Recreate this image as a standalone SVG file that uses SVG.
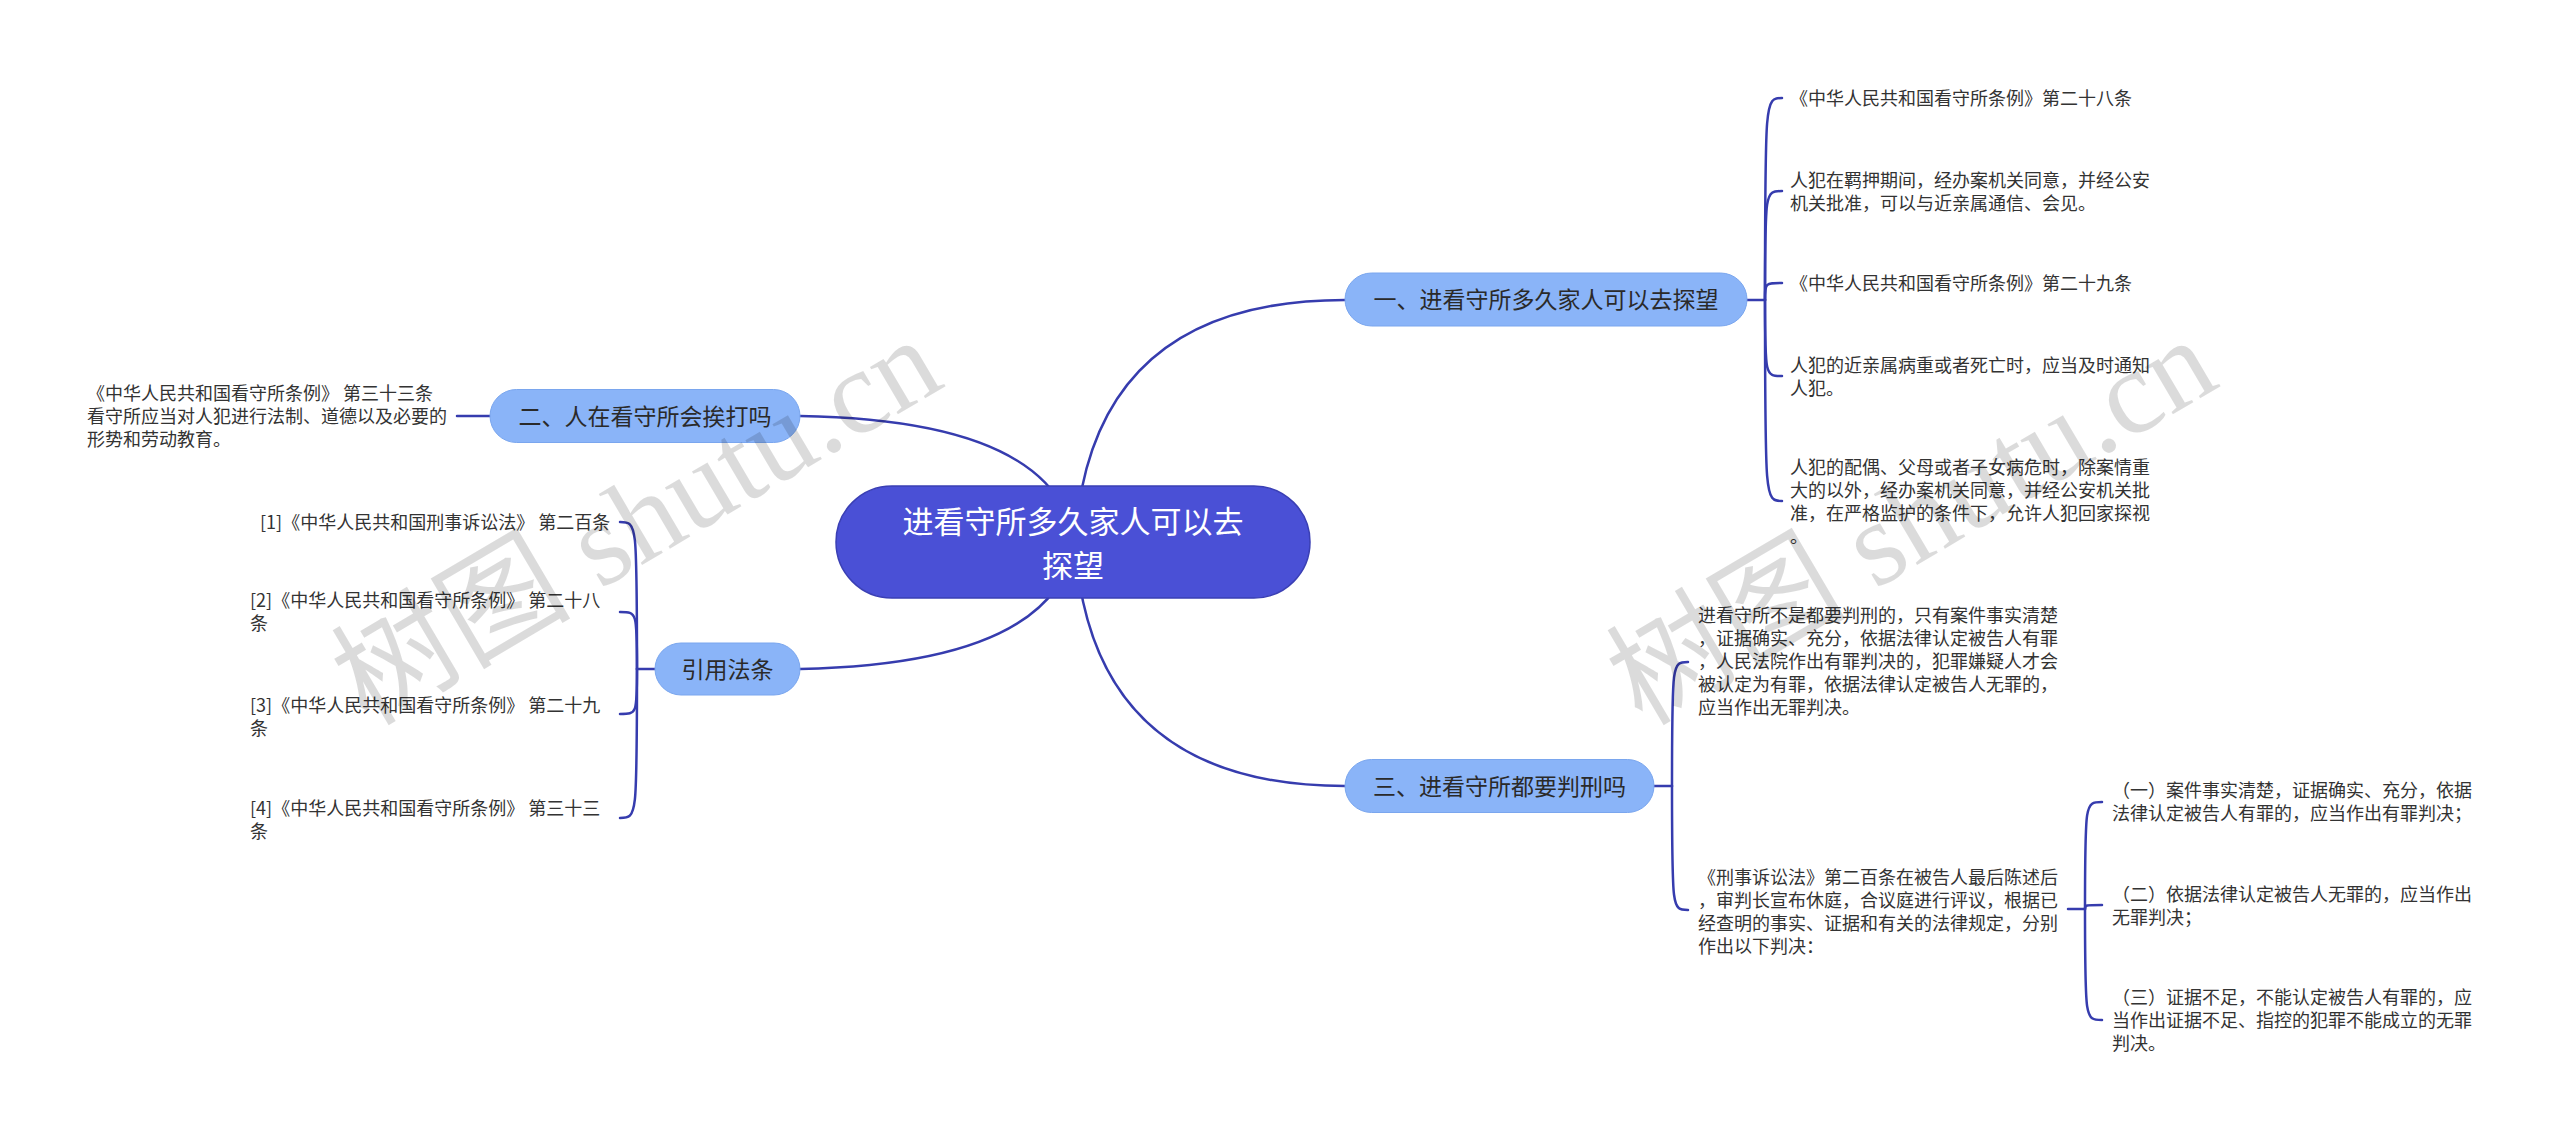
<svg xmlns="http://www.w3.org/2000/svg" width="2560" height="1141" viewBox="0 0 2560 1141">
<style>
  text { font-family: "Noto Sans CJK SC", "Noto Sans", sans-serif; }
  .wm { font-family: "Liberation Serif", "Noto Sans CJK SC", serif; font-size: 120px; fill: #000; fill-opacity: 0.14; }
  .conn { fill: none; stroke: #363cae; stroke-width: 2.5; stroke-linecap: round; }
  .root rect { fill: #4a50d6; stroke: #3a3fb4; stroke-width: 1.5; }
  .root text { fill: #ffffff; font-size: 31px; text-anchor: middle; }
  .main rect { fill: #8ab4f8; stroke: #7aa6ee; stroke-width: 1; }
  .main text { fill: #2a2a2a; font-size: 23px; text-anchor: middle; }
  .leaf text { fill: #333333; font-size: 18px; }
</style>
<rect x="0" y="0" width="2560" height="1141" fill="#ffffff"/>

<g id="connectors">
  <path class="conn" d="M1075 542 Q1090 300 1345 300"/>
  <path class="conn" d="M1075 542 Q1055 420 800 416"/>
  <path class="conn" d="M1075 542 Q1055 664 800 669"/>
  <path class="conn" d="M1075 542 Q1090 786 1345 786"/>
  <path class="conn" d="M1747 300 L1765 300"/>
  <path class="conn" d="M1765 300 C1765 98 1765 98 1782 98"/>
  <path class="conn" d="M1765 300 C1765 191 1765 191 1782 191"/>
  <path class="conn" d="M1765 300 C1765 283 1765 283 1782 283"/>
  <path class="conn" d="M1765 300 C1765 376 1765 376 1782 376"/>
  <path class="conn" d="M1765 300 C1765 501 1765 501 1782 501"/>
  <path class="conn" d="M490 416 L457 416"/>
  <path class="conn" d="M655 669 L637 669"/>
  <path class="conn" d="M637 669 C637 522 637 522 620 522"/>
  <path class="conn" d="M637 669 C637 612 637 612 620 612"/>
  <path class="conn" d="M637 669 C637 714 637 714 620 714"/>
  <path class="conn" d="M637 669 C637 818 637 818 620 818"/>
  <path class="conn" d="M1654 786 L1672 786"/>
  <path class="conn" d="M1672 786 C1672 662 1672 662 1688 662"/>
  <path class="conn" d="M1672 786 C1672 910 1672 910 1688 910"/>
  <path class="conn" d="M2068 909 L2085 909"/>
  <path class="conn" d="M2085 909 C2085 802 2085 802 2102 802"/>
  <path class="conn" d="M2085 909 C2085 905 2085 905 2102 905"/>
  <path class="conn" d="M2085 909 C2085 1020 2085 1020 2102 1020"/>
</g>

<g id="root" class="root">
  <rect x="836" y="486" width="474" height="112" rx="56" ry="56"/>
  <text x="1073" y="533">进看守所多久家人可以去</text>
  <text x="1073" y="577">探望</text>
</g>

<g id="n1" class="main">
  <rect x="1345" y="273" width="402" height="53" rx="26.5" ry="26.5"/>
  <text x="1546" y="308">一、进看守所多久家人可以去探望</text>
</g>
<g id="n2" class="main">
  <rect x="490" y="389.5" width="310" height="53" rx="26.5" ry="26.5"/>
  <text x="645" y="424.5">二、人在看守所会挨打吗</text>
</g>
<g id="n3" class="main">
  <rect x="1345" y="759.5" width="309" height="53" rx="26.5" ry="26.5"/>
  <text x="1499.5" y="795">三、进看守所都要判刑吗</text>
</g>
<g id="n4" class="main">
  <rect x="655" y="643" width="145" height="52" rx="26" ry="26"/>
  <text x="727.5" y="677.5">引用法条</text>
</g>

<g id="n1-1" class="leaf"><text x="1790" y="105">《中华人民共和国看守所条例》第二十八条</text></g>
<g id="n1-2" class="leaf">
  <text x="1790" y="187">人犯在羁押期间，经办案机关同意，并经公安</text>
  <text x="1790" y="210">机关批准，可以与近亲属通信、会见。</text>
</g>
<g id="n1-3" class="leaf"><text x="1790" y="290">《中华人民共和国看守所条例》第二十九条</text></g>
<g id="n1-4" class="leaf">
  <text x="1790" y="372">人犯的近亲属病重或者死亡时，应当及时通知</text>
  <text x="1790" y="395">人犯。</text>
</g>
<g id="n1-5" class="leaf">
  <text x="1790" y="474">人犯的配偶、父母或者子女病危时，除案情重</text>
  <text x="1790" y="497">大的以外，经办案机关同意，并经公安机关批</text>
  <text x="1790" y="520">准，在严格监护的条件下，允许人犯回家探视</text>
  <text x="1790" y="543">。</text>
</g>

<g id="n2-1" class="leaf">
  <text x="87" y="400">《中华人民共和国看守所条例》 第三十三条</text>
  <text x="87" y="423">看守所应当对人犯进行法制、道德以及必要的</text>
  <text x="87" y="446">形势和劳动教育。</text>
</g>

<g id="n4-1" class="leaf"><text x="260" y="529">[1]《中华人民共和国刑事诉讼法》 第二百条</text></g>
<g id="n4-2" class="leaf">
  <text x="250" y="607">[2]《中华人民共和国看守所条例》 第二十八</text>
  <text x="250" y="630">条</text>
</g>
<g id="n4-3" class="leaf">
  <text x="250" y="712">[3]《中华人民共和国看守所条例》 第二十九</text>
  <text x="250" y="735">条</text>
</g>
<g id="n4-4" class="leaf">
  <text x="250" y="815">[4]《中华人民共和国看守所条例》 第三十三</text>
  <text x="250" y="838">条</text>
</g>

<g id="n3-1" class="leaf">
  <text x="1698" y="622">进看守所不是都要判刑的，只有案件事实清楚</text>
  <text x="1698" y="645">，证据确实、充分，依据法律认定被告人有罪</text>
  <text x="1698" y="668">，人民法院作出有罪判决的，犯罪嫌疑人才会</text>
  <text x="1698" y="691">被认定为有罪，依据法律认定被告人无罪的，</text>
  <text x="1698" y="714">应当作出无罪判决。</text>
</g>
<g id="n3-2" class="leaf">
  <text x="1698" y="884">《刑事诉讼法》第二百条在被告人最后陈述后</text>
  <text x="1698" y="907">，审判长宣布休庭，合议庭进行评议，根据已</text>
  <text x="1698" y="930">经查明的事实、证据和有关的法律规定，分别</text>
  <text x="1698" y="953">作出以下判决：</text>
</g>
<g id="n3-2-1" class="leaf">
  <text x="2112" y="797">（一）案件事实清楚，证据确实、充分，依据</text>
  <text x="2112" y="820">法律认定被告人有罪的，应当作出有罪判决；</text>
</g>
<g id="n3-2-2" class="leaf">
  <text x="2112" y="901">（二）依据法律认定被告人无罪的，应当作出</text>
  <text x="2112" y="924">无罪判决；</text>
</g>
<g id="n3-2-3" class="leaf">
  <text x="2112" y="1004">（三）证据不足，不能认定被告人有罪的，应</text>
  <text x="2112" y="1027">当作出证据不足、指控的犯罪不能成立的无罪</text>
  <text x="2112" y="1050">判决。</text>
</g>

<g id="watermarks">
  <text class="wm" x="367" y="727" transform="rotate(-30.5 367 727)">树图 shutu.cn</text>
  <text class="wm" x="1642" y="727" transform="rotate(-30.5 1642 727)">树图 shutu.cn</text>
</g>
</svg>
